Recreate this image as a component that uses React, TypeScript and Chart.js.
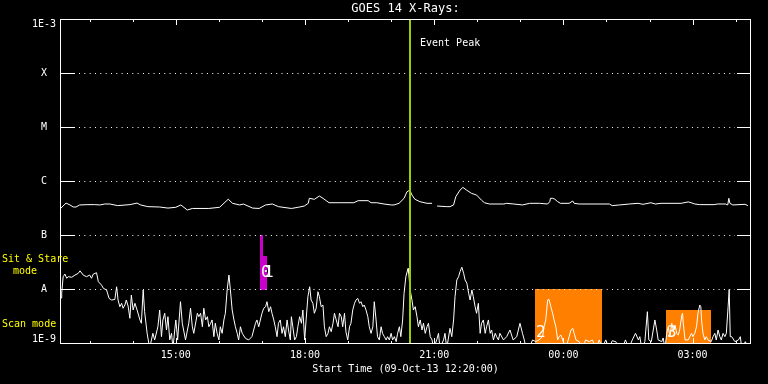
import React, { useEffect, useRef } from "react";
import { Chart, registerables } from "chart.js";

Chart.register(...registerables);

// ---------- text ----------
const TITLE = "GOES 14 X-Rays:";
const X_TITLE = "Start Time (09-Oct-13 12:20:00)";
const EVENT_LABEL = "Event Peak";
const SIT_STARE_LINES = ["Sit & Stare", "mode"];
const SCAN_LABEL = "Scan mode";

// ---------- axes (x in minutes after 12:20 on 09-Oct-13) ----------
const X_MIN = 0;
const X_MAX = 960;
const xHourTicks = [40, 100, 160, 220, 280, 340, 400, 460, 520, 580, 640, 700, 760, 820, 880, 940];
const xLabelTicks = [160, 340, 520, 700, 880];
const xTickLabels = ["15:00", "18:00", "21:00", "00:00", "03:00"];

const yTickValues = [1e-9, 1e-8, 1e-7, 1e-6, 1e-5, 1e-4, 1e-3];
const yTickLabels = ["1E-9", "A", "B", "C", "M", "X", "1E-3"];
const yGridValues = [1e-8, 1e-7, 1e-6, 1e-5, 1e-4];

// ---------- event ----------
const eventPeakMinute = 486;

// ---------- observing-mode boxes ----------
const sitStareStart = [277, 282];
const sitStareEnd = [282, 287];
const sitStareTop = [1e-7, 4.1e-8];
const sitStareBottom = 1e-8;
const sitStareLabels = ["0", "1"];
const sitStareLabelLevel = 2.0e-8;

const scanStart = [660, 843];
const scanEnd = [754, 905];
const scanTop = [1e-8, 4.1e-9];
const scanBottom = 1e-9;
const scanLabels = ["2", "3"];
const scanLabelLevel = 1.55e-9;

// ---------- long channel (1-8 A) ----------
const longTimes = [0, 7, 12.5, 17, 21, 26, 37.5, 47, 54, 61, 68, 79, 96, 106, 111, 121, 137.5, 149, 160, 167,
  176, 183, 206, 221, 233, 239, 249, 254, 267, 276, 285, 294.5, 303, 321, 330.5, 339, 344.5, 346, 353, 360,
  365, 369.5, 373.5, 390, 408, 414, 428, 432, 440, 450, 460, 464, 471, 478, 482, 486, 489, 493, 500, 510,
  517, 519, 524, 537.5, 542, 547, 550, 556, 560, 565, 572, 579, 586, 590, 597, 617, 621, 631, 643, 653,
  667, 678, 681, 682, 685, 688, 692, 696, 708, 713, 715, 722, 764, 768, 778, 792, 804, 811, 822, 828,
  836, 864, 874, 878, 883, 890, 910, 915, 926, 929, 930.5, 932, 936, 953, 957];
const longFlux = [3.15e-7, 3.9e-7, 3.6e-7, 3.3e-7, 3.3e-7, 3.6e-7, 3.65e-7, 3.65e-7, 3.6e-7, 3.75e-7, 3.75e-7, 3.5e-7, 3.65e-7, 3.9e-7, 3.6e-7, 3.35e-7, 3.3e-7, 3.15e-7, 3.26e-7, 3.6e-7,
  2.9e-7, 3.1e-7, 3.1e-7, 3.26e-7, 4.6e-7, 3.86e-7, 3.6e-7, 3.75e-7, 3.15e-7, 3.1e-7, 3.6e-7, 3.75e-7, 3.35e-7, 3.1e-7, 3.26e-7, 3.44e-7, 3.86e-7, 4.78e-7, 4.58e-7, 5.27e-7,
  4.78e-7, 4.32e-7, 3.96e-7, 3.96e-7, 3.96e-7, 4.32e-7, 4.32e-7, 3.96e-7, 3.96e-7, 3.75e-7, 3.6e-7, 3.6e-7, 3.86e-7, 4.78e-7, 6.3e-7, 6.8e-7, 5.5e-7, 4.6e-7, 4.14e-7, 3.86e-7,
  3.86e-7, null, 3.44e-7, 3.35e-7, 3.35e-7, 3.6e-7, 5.1e-7, 6.8e-7, 7.6e-7, 6.8e-7, 5.9e-7, 5.5e-7, 4.4e-7, 3.96e-7, 3.75e-7, 3.75e-7, 3.86e-7, 3.75e-7, 3.6e-7, 3.86e-7,
  3.86e-7, 3.75e-7, 4.14e-7, 4.78e-7, 4.78e-7, 4.6e-7, 4.14e-7, 3.86e-7, 3.86e-7, 4.26e-7, 3.86e-7, 3.75e-7, 3.75e-7, 3.5e-7, 3.6e-7, 3.75e-7, 3.86e-7, 3.7e-7, 3.96e-7, 3.75e-7,
  3.86e-7, 3.86e-7, 4.1e-7, 3.96e-7, 3.75e-7, 3.65e-7, 3.65e-7, 3.75e-7, 3.75e-7, 3.6e-7, 4.78e-7, 3.86e-7, 3.6e-7, 3.7e-7, 3.5e-7];

// ---------- short channel (0.5-4 A): [minute, flux] ----------
const shortChannel: Array<[number, number]> = [
  [0, 6.8e-9], [1, 8.4e-9], [3, 1.69e-8], [5.5, 1.89e-8], [8, 1.58e-8], [10, 1.69e-8], [15, 1.65e-8], [19.5, 1.81e-8],
  [24, 1.95e-8], [26.5, 2.17e-8], [31, 1.81e-8], [35.5, 1.69e-8], [40, 1.81e-8], [42.5, 1.58e-8], [45, 1.89e-8],
  [49.5, 2.0e-8], [52, 1.37e-8], [56.5, 1.18e-8], [59, 1.03e-8], [63.5, 9.6e-9], [67, 6.7e-9], [70.5, 6.25e-9],
  [75, 6.4e-9], [77.5, 1.1e-8], [79.5, 6.25e-9], [82, 4.7e-9], [84.5, 5.43e-9], [86.5, 4.4e-9], [89, 5.05e-9],
  [91, 6.25e-9], [93.5, 4.84e-9], [96, 2.87e-9], [98, 7.7e-9], [100.5, 4.08e-9], [103, 5.43e-9], [106, 4.08e-9],
  [110, 2.67e-9], [112, 2.32e-9], [114.5, 9.6e-9], [116.5, 3.8e-9], [120, 1.51e-9], [123.5, 8e-10], [128, 1.51e-9],
  [130.5, 1.14e-9], [135, 2.0e-9], [137.5, 4.08e-9], [140, 1.31e-9], [142, 2.67e-9], [144.5, 3.55e-9], [147, 1.74e-9],
  [149, 3.07e-9], [151.5, 1.14e-9], [154, 1.51e-9], [156, 8e-10], [158.5, 1.74e-9],
  [160, 2.67e-9], [162.5, 1.14e-9], [166.5, 5.82e-9], [169, 2.32e-9], [173.5, 1.14e-9], [178, 2.32e-9], [180.5, 4.4e-9],
  [183, 2.0e-9], [185, 1.51e-9], [190, 3.55e-9], [192, 3.07e-9], [194.5, 3.55e-9], [197, 2.0e-9], [199, 4.4e-9],
  [201.5, 2.67e-9], [204, 3.07e-9], [206, 2.0e-9], [208.5, 2.32e-9], [210.5, 2.67e-9], [213, 1.31e-9], [215, 2.32e-9],
  [217.5, 1.51e-9], [220, 1.14e-9], [222, 2.0e-9], [224.5, 1.51e-9], [227, 2.67e-9], [229, 3.55e-9], [231.5, 9.6e-9],
  [234, 1.81e-8], [236, 9.6e-9], [238.5, 4.08e-9], [241, 2.67e-9], [243, 2.0e-9], [245.5, 1.51e-9], [247.5, 1.14e-9],
  [250, 2.0e-9], [252.5, 1.51e-9], [257, 1.22e-9], [261.5, 1.14e-9], [266, 1.31e-9], [271, 2.32e-9], [273, 2.67e-9],
  [275.5, 2.0e-9], [280, 3.55e-9], [282.5, 4.4e-9], [285, 4.7e-9], [287, 5.82e-9], [289.5, 3.8e-9], [292, 4.7e-9],
  [294, 3.55e-9], [296.5, 2.67e-9], [298.5, 2.0e-9], [301, 1.31e-9], [303, 2.32e-9], [305.5, 2.67e-9], [308, 1.51e-9],
  [310, 2.0e-9], [312.5, 1.31e-9], [315, 2.67e-9], [317, 1.74e-9], [319.5, 1.14e-9],
  [321, 3.07e-9], [323, 2.0e-9], [325.5, 1.14e-9], [328, 1.31e-9], [330, 2.0e-9], [332.5, 3.07e-9], [335, 2.32e-9],
  [337, 4.08e-9], [339.5, 1.14e-9], [341.5, 2.67e-9], [344, 7.2e-9], [346.5, 1.1e-8], [348.5, 6.25e-9], [351, 5.43e-9],
  [353, 3.55e-9], [355.5, 4.4e-9], [358, 8.9e-9], [360, 7.2e-9], [362.5, 4.7e-9], [365, 5.05e-9], [367, 2.0e-9],
  [369.5, 1.31e-9], [372, 1.51e-9], [374, 2.0e-9], [376.5, 1.62e-9], [379, 2.32e-9], [381, 3.55e-9], [383.5, 2.67e-9],
  [386, 2.0e-9], [388, 3.55e-9], [390.5, 3.07e-9], [392.5, 2.0e-9], [395, 3.55e-9], [397, 1.62e-9], [399.5, 1.14e-9],
  [402, 2.0e-9], [404, 2.32e-9], [406.5, 4.08e-9], [409, 5.43e-9], [411, 6.25e-9], [413.5, 6.7e-9], [416, 5.43e-9],
  [418, 5.82e-9], [420.5, 4.7e-9], [422.5, 5.05e-9], [425, 4.08e-9], [427.5, 3.07e-9], [429.5, 2.0e-9], [432, 1.51e-9],
  [434.5, 2.0e-9], [436.5, 5.82e-9], [439, 2.67e-9], [441, 1.31e-9], [443.5, 1.14e-9], [446, 2.0e-9], [448, 1.51e-9],
  [450.5, 1.31e-9], [453, 1.14e-9], [455, 1.31e-9], [457.5, 1.14e-9], [460, 1.51e-9], [462, 1.14e-9], [464.5, 1.31e-9],
  [467, 1.06e-9], [469, 1.51e-9], [471.5, 2.0e-9], [473.5, 1.31e-9], [476, 2.67e-9], [478, 8.3e-9], [480.5, 1.69e-8],
  [483.5, 2.4e-8], [484.5, 1.95e-8], [486.5, 9.6e-9], [489, 6.25e-9], [491, 4.08e-9], [493.5, 4.7e-9], [496, 3.07e-9],
  [498, 2.0e-9], [500.5, 2.67e-9], [503, 1.74e-9], [505, 2.32e-9], [507.5, 1.51e-9], [510, 2.0e-9], [512, 2.32e-9],
  [514.5, 1.31e-9], [517, 1.14e-9], [519, 8e-10], [523.5, 1.14e-9], [526, 1.51e-9], [528, 8e-10], [533, 1.14e-9],
  [535, 1.51e-9], [537.5, 8e-10], [542, 1.87e-9], [544.5, 1.31e-9], [547, 2.67e-9], [549, 7.2e-9], [551.5, 1.47e-8],
  [554, 1.69e-8], [556, 2.1e-8], [558.5, 2.53e-8], [561, 1.95e-8], [563, 1.47e-8], [565.5, 1.28e-8], [568, 8.3e-9],
  [570, 6.25e-9], [572.5, 9.6e-9], [574.5, 7.2e-9], [577, 4.7e-9], [579, 3.55e-9], [581.5, 5.43e-9], [584, 1.51e-9],
  [586, 2.32e-9], [588.5, 2.67e-9], [591, 1.51e-9], [593, 2.0e-9], [595.5, 2.67e-9], [598, 1.51e-9], [600, 1.74e-9],
  [602.5, 1.14e-9], [605, 1.51e-9], [607, 1.31e-9], [609.5, 1.14e-9], [611.5, 1.51e-9], [616.5, 1.14e-9], [621, 1.31e-9],
  [625.5, 1.74e-9], [630, 1.14e-9], [635, 1.31e-9], [639.5, 2.32e-9],
  [643, 1.51e-9], [645.5, 1.14e-9], [648, 8e-10], [652.5, 8e-10], [657, 1.14e-9], [661.5, 1.06e-9], [666, 1.14e-9],
  [671, 1.31e-9], [673, 2.0e-9], [675.5, 2.67e-9], [678, 6.25e-9], [680, 6.4e-9], [682.5, 4.7e-9], [685, 3.55e-9],
  [687, 2.67e-9], [689.5, 2.0e-9], [692, 1.14e-9], [694, 1.31e-9], [696.5, 1.4e-9], [699, 1.14e-9], [703.5, 8e-10],
  [708, 1.31e-9], [710.5, 1.74e-9], [713, 1.87e-9], [715, 1.51e-9], [717.5, 1.14e-9], [722, 1.06e-9], [726.5, 8e-10],
  [731, 1.14e-9], [736, 1.06e-9], [740.5, 1.14e-9], [745, 8e-10], [750, 1.14e-9], [754, 8e-10], [759, 1.14e-9],
  [763.5, 8e-10], [768, 1.1e-9], [773, 1.06e-9], [777.5, 8e-10], [782, 8e-10], [786.5, 1.14e-9], [791, 8e-10],
  [796, 1.14e-9], [800.5, 1.51e-9],
  [804.5, 1.14e-9], [806.5, 1.31e-9], [809, 8e-10], [813.5, 1.06e-9], [817, 3.8e-9], [819, 1.14e-9], [822.5, 1.06e-9],
  [827.5, 2.67e-9], [830, 1.74e-9], [832, 1.14e-9], [837, 1.06e-9], [839, 1.24e-9], [841.5, 8e-10], [844, 1.51e-9],
  [846, 2.0e-9], [848.5, 1.31e-9], [851, 2.32e-9], [853, 1.74e-9], [855.5, 2.15e-9], [858, 1.51e-9], [860, 1.4e-9],
  [862, 1.74e-9], [865, 3.3e-9], [866, 3.55e-9], [867, 2.32e-9], [869.5, 1.14e-9], [874, 1.14e-9], [878.5, 1.51e-9],
  [880.5, 1.31e-9], [883, 1.51e-9], [885.5, 2.0e-9], [887.5, 3.55e-9], [890, 5.05e-9], [891.5, 4.7e-9], [892.5, 2.67e-9],
  [894.5, 1.51e-9], [897, 1.14e-9], [899, 1.31e-9], [901.5, 1.14e-9], [906, 1.06e-9], [908.5, 1.31e-9], [911, 1.51e-9],
  [913, 1.14e-9], [915.5, 1.74e-9], [918, 1.31e-9], [920, 1.14e-9], [922.5, 1.51e-9], [925, 1.31e-9], [927, 1.51e-9],
  [929.5, 4.7e-9], [931, 9.8e-9], [932.5, 1.31e-9], [934.5, 1.31e-9], [939, 1.06e-9], [944, 1.14e-9], [946.5, 1.31e-9],
  [948.5, 8e-10], [953.5, 1.06e-9], [958, 8e-10],
];

// ---------- style ----------
const WHITE = "#ffffff";
const YELLOW = "#ffff00";
const EVENT_GREEN = "#9ccd00";
const MAGENTA = "#cc00cc";
const ORANGE = "#ff8000";
const FONT = '"DejaVu Sans Mono", monospace';

const goesDecor = {
  id: "goesDecor",
  beforeDraw(chart: any) {
    const { ctx, width, height } = chart;
    ctx.save();
    ctx.fillStyle = "#000";
    ctx.fillRect(0, 0, width, height);
    ctx.restore();
  },
  beforeDatasetsDraw(chart: any) {
    const { ctx, chartArea: a } = chart;
    const xs = chart.scales.x;
    const ys = chart.scales.y;
    ctx.save();
    // mode boxes
    ctx.fillStyle = MAGENTA;
    sitStareStart.forEach((s, i) => {
      const x0 = Math.round(xs.getPixelForValue(s));
      const x1 = Math.round(xs.getPixelForValue(sitStareEnd[i]));
      const y0 = Math.round(ys.getPixelForValue(sitStareTop[i]));
      const y1 = Math.round(ys.getPixelForValue(sitStareBottom));
      ctx.fillRect(x0, y0, x1 - x0, y1 - y0 + 1);
    });
    ctx.fillStyle = ORANGE;
    scanStart.forEach((s, i) => {
      const x0 = Math.round(xs.getPixelForValue(s));
      const x1 = Math.round(xs.getPixelForValue(scanEnd[i]));
      const y0 = Math.round(ys.getPixelForValue(scanTop[i]));
      const y1 = Math.round(ys.getPixelForValue(scanBottom));
      ctx.fillRect(x0, y0, x1 - x0, y1 - y0);
    });
    // y grid: solid tick stubs + dotted line
    ctx.strokeStyle = WHITE;
    ctx.lineWidth = 1;
    yGridValues.forEach((v) => {
      const yy = Math.round(ys.getPixelForValue(v)) + 0.5;
      ctx.setLineDash([]);
      ctx.beginPath();
      ctx.moveTo(a.left - 1, yy);
      ctx.lineTo(a.left + 14, yy);
      ctx.moveTo(a.right + 1, yy);
      ctx.lineTo(a.right - 13, yy);
      ctx.stroke();
      ctx.setLineDash([1, 4.33]);
      ctx.beginPath();
      ctx.moveTo(a.left + 18, yy);
      ctx.lineTo(a.right - 15, yy);
      ctx.stroke();
    });
    ctx.setLineDash([]);
    // x ticks
    xHourTicks.forEach((m) => {
      const xx = Math.round(xs.getPixelForValue(m)) + 0.5;
      const len = xLabelTicks.includes(m) ? 6 : 3;
      ctx.beginPath();
      ctx.moveTo(xx, a.top);
      ctx.lineTo(xx, a.top + len);
      ctx.moveTo(xx, a.bottom + 1);
      ctx.lineTo(xx, a.bottom + 1 - len);
      ctx.stroke();
    });
    ctx.restore();
  },
  afterDatasetsDraw(chart: any) {
    const { ctx, chartArea: a } = chart;
    const xs = chart.scales.x;
    const ys = chart.scales.y;
    ctx.save();
    // event peak line
    const ex = Math.round(xs.getPixelForValue(eventPeakMinute));
    ctx.fillStyle = EVENT_GREEN;
    ctx.fillRect(ex - 1, a.top, 2, a.bottom - a.top + 1);
    // frame
    ctx.strokeStyle = WHITE;
    ctx.lineWidth = 1;
    ctx.strokeRect(a.left - 0.5, a.top + 0.5, a.right - a.left + 1, a.bottom - a.top);

    ctx.fillStyle = WHITE;
    ctx.textBaseline = "middle";
    // box labels
    ctx.font = `16px ${FONT}`;
    ctx.textAlign = "left";
    sitStareLabels.forEach((lab, i) => {
      ctx.fillText(lab, Math.round(xs.getPixelForValue(sitStareStart[i])) + 1, ys.getPixelForValue(sitStareLabelLevel));
    });
    scanLabels.forEach((lab, i) => {
      ctx.fillText(lab, Math.round(xs.getPixelForValue(scanStart[i])) + 1, ys.getPixelForValue(scanLabelLevel));
    });
    // event label
    ctx.font = `10px ${FONT}`;
    ctx.fillText(EVENT_LABEL, ex + 10, a.top + 24);
    // y labels
    ctx.textAlign = "center";
    yTickValues.forEach((v, i) => {
      let yy = ys.getPixelForValue(v) + 0.5;
      yy = Math.min(Math.max(yy, a.top + 5), a.bottom - 3.5);
      ctx.fillText(yTickLabels[i], 44, yy);
    });
    // x labels
    xLabelTicks.forEach((m, i) => {
      ctx.fillText(xTickLabels[i], xs.getPixelForValue(m), a.bottom + 12);
    });
    const cx = (a.left + a.right) / 2;
    ctx.fillText(X_TITLE, cx, a.bottom + 26);
    ctx.font = `12px ${FONT}`;
    ctx.fillText(TITLE, cx, 9);
    // mode labels
    ctx.font = `10px ${FONT}`;
    ctx.fillStyle = YELLOW;
    ctx.textAlign = "left";
    ctx.fillText(SIT_STARE_LINES[0], 2, ys.getPixelForValue(sitStareTop[0]) + 24);
    ctx.fillText(SIT_STARE_LINES[1], 13, ys.getPixelForValue(sitStareTop[0]) + 36);
    ctx.fillText(SCAN_LABEL, 2, ys.getPixelForValue(scanBottom) - 19);
    ctx.restore();
  },
};

export default function App() {
  const canvasRef = useRef<HTMLCanvasElement | null>(null);

  useEffect(() => {
    document.body.style.margin = "0";
    document.body.style.background = "#000";
    const canvas = canvasRef.current;
    if (!canvas) return;
    const chart = new Chart(canvas, {
      type: "line",
      data: {
        datasets: [
          {
            label: "1.0-8.0 A",
            data: longTimes.map((t, i) => ({ x: t, y: longFlux[i] })),
            borderColor: WHITE,
            borderWidth: 1,
            pointRadius: 0,
            tension: 0,
            spanGaps: false,
          },
          {
            label: "0.5-4.0 A",
            data: shortChannel.map(([t, f]) => ({ x: t, y: f })),
            borderColor: WHITE,
            borderWidth: 1,
            pointRadius: 0,
            tension: 0,
            spanGaps: false,
          },
        ],
      },
      options: {
        responsive: false,
        animation: false,
        devicePixelRatio: 1,
        events: [],
        layout: { padding: { left: 61, right: 18, top: 19, bottom: 41 } },
        plugins: {
          legend: { display: false },
          tooltip: { enabled: false },
          title: { display: false },
        },
        scales: {
          x: { type: "linear", min: X_MIN, max: X_MAX, display: false },
          y: { type: "logarithmic", min: 1e-9, max: 1e-3, display: false },
        },
      },
      plugins: [goesDecor],
    } as any);
    return () => chart.destroy();
  }, []);

  return (
    <div style={{ position: "fixed", left: 0, top: 0, width: 768, height: 384, background: "#000" }}>
      <canvas ref={canvasRef} width={768} height={384} style={{ display: "block" }} />
    </div>
  );
}
